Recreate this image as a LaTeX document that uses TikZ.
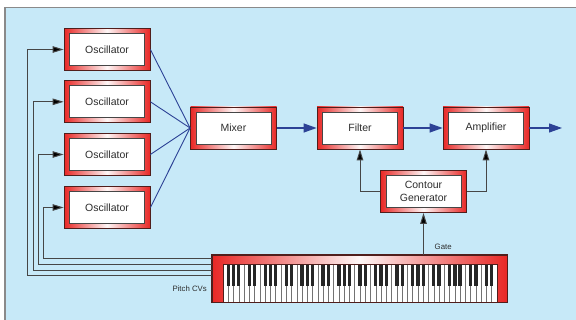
\documentclass[tikz,border=0pt]{standalone}
\usepackage{fontspec}
\setmainfont{Liberation Sans}
\usetikzlibrary{arrows.meta}

\definecolor{framered}{RGB}{232,40,38}
\definecolor{frameedge}{RGB}{80,30,28}
\definecolor{panelblue}{RGB}{199,233,248}
\definecolor{panelline}{RGB}{138,138,138}
\definecolor{sigblue}{RGB}{44,66,150}
\definecolor{ctlgray}{RGB}{70,70,70}
\definecolor{textgray}{RGB}{45,45,45}

\tikzset{
  % red frame: strong red at both sides, almost white in the middle
  redframe/.style={left color=framered, right color=framered,
    middle color=framered!4!white},
  unit/.style={redframe, draw=frameedge, line width=0.8pt,
    minimum width=86pt, minimum height=42pt, inner sep=0pt},
  face/.style={fill=white, draw=ctlgray, line width=0.8pt,
    minimum width=75pt, minimum height=32pt, inner sep=0pt,
    text=textgray, align=center,
    font=\fontsize{10.5}{12.5}\selectfont},
  kbdframe/.style={redframe, draw=frameedge, line width=0.8pt,
    minimum width=295pt, minimum height=47pt, inner sep=0pt},
  sig/.style={draw=sigblue, line width=1.2pt},
  sigarrow/.style={sig, -{Triangle[length=13pt,width=9pt]}},
  mixline/.style={draw=sigblue, line width=0.9pt},
  ctl/.style={draw=ctlgray, line width=1pt, -{Triangle[length=11pt,width=6.5pt,fill=black]}},
  cv/.style={draw=ctlgray, line width=1pt, -{Triangle[length=11pt,width=6.5pt,fill=black]}},
  smalllabel/.style={text=textgray, font=\fontsize{7.8}{9}\selectfont, inner sep=0pt},
  keyline/.style={draw=black!55, line width=0.5pt},
  blackkey/.style={fill=black!85}
}

\begin{document}
\begin{tikzpicture}[x=1pt, y=-1pt]
\useasboundingbox (0,0) rectangle (576,320);
\fill[white] (0,0) rectangle (576,320);

% panel
\fill[panelblue] (5,7.5) rectangle (576,320);
\draw[panelline, line width=1.5pt] (5,320) -- (5,7.5) -- (576,7.5);

% modules: red frame with a white face carrying the label
\node[unit] (osc1) at (107,49.5) {};
\node[unit] (osc2) at (107,101.8) {};
\node[unit] (osc3) at (107,154.5) {};
\node[unit] (osc4) at (107,207.5) {};
\node[unit] (mixer) at (233.5,128) {};
\node[unit] (filter) at (360,128) {};
\node[unit] (amp) at (486,128) {};
\node[unit] (cg) at (423.5,191.5) {};
\node[face] (osc1face) at (osc1) {Oscillator};
\node[face] (osc2face) at (osc2) {Oscillator};
\node[face] (osc3face) at (osc3) {Oscillator};
\node[face] (osc4face) at (osc4) {Oscillator};
\node[face] (mixerface) at (mixer) {Mixer};
\node[face] (filterface) at (filter) {Filter};
\node[face] (ampface) at (amp) {Amplifier};
\node[face] (cgface) at (cg) {Contour\\Generator};

% keyboard
\node[kbdframe] (kbd) at (359.5,278.5) {};
\fill[white] (223,264) rectangle (497,302);
\foreach \i in {1,...,51}
  \draw[keyline] ({223+\i*274/52},264) -- ({223+\i*274/52},302);
\foreach \i in {0,...,50}{
  \pgfmathtruncatemacro\keymod{mod(\i,7)}
  \ifnum\keymod=3 \else\ifnum\keymod=6 \else
    \fill[blackkey] ({223+(\i+1)*274/52-1.65},264) rectangle ({223+(\i+1)*274/52+1.65},286.5);
  \fi\fi
}
\draw[frameedge, line width=0.6pt] (223,264) rectangle (497,302);
\draw[frameedge, line width=0.8pt] (kbd.north west) rectangle (kbd.south east);

% oscillators into the mixer
\foreach \o in {osc1,osc2,osc3,osc4}
  \draw[mixline] (\o.east) -- (mixer.west);

% audio path
\coordinate (out) at (562,128);
\draw[sigarrow] (mixer.east) -- (filter.west);
\draw[sigarrow] (filter.east) -- (amp.west);
\draw[sigarrow] (amp.east) -- (out);

% control voltages
\draw[ctl] (cg.west) -| (filter.south);
\draw[ctl] (cg.east) -| (amp.south);
\draw[ctl] (cg.south |- kbd.north) -- (cg.south);
\node[smalllabel, anchor=west] (gate) at (434.5,247) {Gate};

% pitch CVs from the keyboard
\draw[cv] ([yshift=-4.3pt]kbd.north west) -| ([xshift=-20pt]osc4.west) -- (osc4.west);
\draw[cv] ([yshift=-10pt]kbd.north west) -| ([xshift=-25pt]osc3.west) -- (osc3.west);
\draw[cv] ([yshift=-15.5pt]kbd.north west) -| ([xshift=-30.5pt]osc2.west) -- (osc2.west);
\draw[cv] ([yshift=-21pt]kbd.north west) -| ([xshift=-36pt]osc1.west) -- (osc1.west);
\node[smalllabel, anchor=east] (pitch) at (207,289) {Pitch CVs};
\end{tikzpicture}
\end{document}
